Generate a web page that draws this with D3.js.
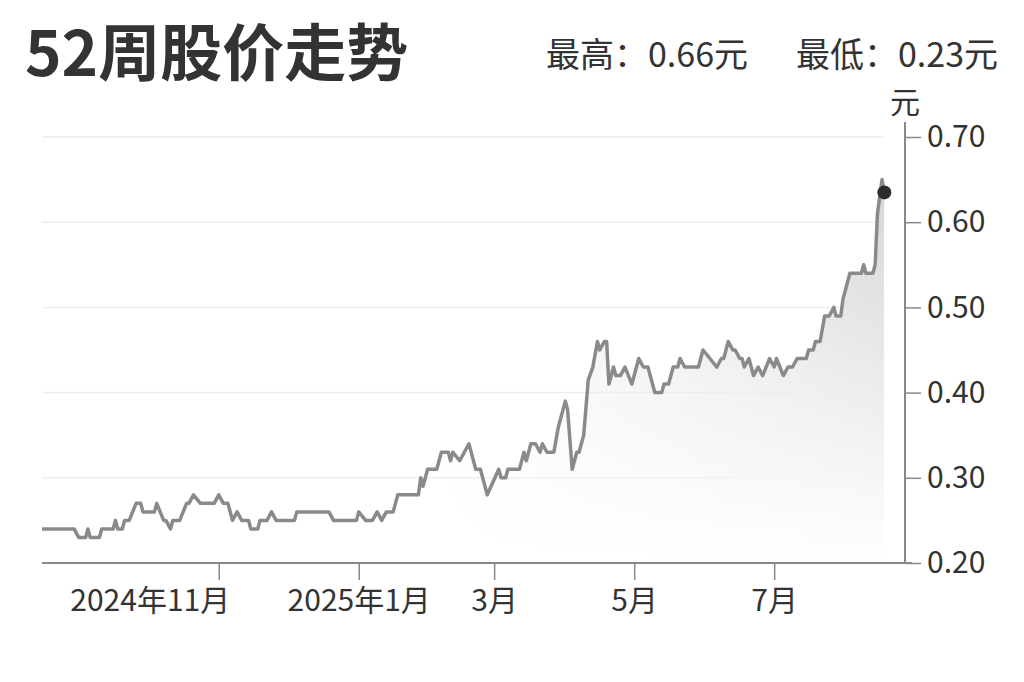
<!DOCTYPE html>
<html>
<head>
<meta charset="utf-8">
<script src="https://cdn.jsdelivr.net/npm/d3@7"></script>
<style>
  body { margin: 0; background: #fff; }
  svg text { font-family: "Noto Sans CJK SC", "Noto Sans", sans-serif; fill: #333; }
</style>
</head>
<body>
<div id="chart"></div>
<script>
var width = 1024, height = 682;

// price vertices (date, close in 元)
var dates = [
  "2024-08-16","2024-08-30","2024-09-01","2024-09-04","2024-09-05","2024-09-06","2024-09-10","2024-09-11",
  "2024-09-16","2024-09-17","2024-09-18","2024-09-20","2024-09-21","2024-09-23","2024-09-26","2024-09-28",
  "2024-09-29","2024-10-04","2024-10-05","2024-10-08","2024-10-09","2024-10-11","2024-10-12","2024-10-15",
  "2024-10-18","2024-10-19","2024-10-21","2024-10-24","2024-10-30","2024-11-01","2024-11-03","2024-11-05",
  "2024-11-07","2024-11-09","2024-11-11","2024-11-14","2024-11-15","2024-11-18","2024-11-19","2024-11-22",
  "2024-11-24","2024-11-26","2024-12-04","2024-12-05","2024-12-19","2024-12-21","2024-12-31","2025-01-01",
  "2025-01-04","2025-01-07","2025-01-09","2025-01-11","2025-01-13","2025-01-16","2025-01-18","2025-01-27",
  "2025-01-28","2025-01-29","2025-01-31","2025-02-04","2025-02-06","2025-02-09","2025-02-10","2025-02-11",
  "2025-02-14","2025-02-18","2025-02-21","2025-02-23","2025-02-26","2025-03-03","2025-03-04","2025-03-06",
  "2025-03-07","2025-03-12","2025-03-14","2025-03-15","2025-03-17","2025-03-19","2025-03-21","2025-03-22",
  "2025-03-24","2025-03-27","2025-03-29","2025-04-01","2025-04-02","2025-04-04","2025-04-06","2025-04-07",
  "2025-04-09","2025-04-11","2025-04-13","2025-04-15","2025-04-16","2025-04-18","2025-04-19","2025-04-20",
  "2025-04-22","2025-04-23","2025-04-25","2025-04-27","2025-04-30","2025-05-03","2025-05-05","2025-05-07",
  "2025-05-10","2025-05-13","2025-05-14","2025-05-16","2025-05-18","2025-05-20","2025-05-21","2025-05-23",
  "2025-05-29","2025-05-31","2025-06-03","2025-06-06","2025-06-08","2025-06-09","2025-06-11","2025-06-13",
  "2025-06-14","2025-06-16","2025-06-17","2025-06-18","2025-06-20","2025-06-22","2025-06-24","2025-06-26",
  "2025-06-29","2025-07-01","2025-07-02","2025-07-05","2025-07-07","2025-07-09","2025-07-11","2025-07-15",
  "2025-07-16","2025-07-18","2025-07-19","2025-07-21","2025-07-23","2025-07-25","2025-07-27","2025-07-28",
  "2025-07-30","2025-07-31","2025-08-03","2025-08-08","2025-08-09","2025-08-10","2025-08-13","2025-08-14",
  "2025-08-15","2025-08-17","2025-08-18"
];
var prices = [
  0.24,0.24,0.23,0.23,0.24,0.23,0.23,0.24,
  0.24,0.25,0.24,0.24,0.25,0.25,0.27,0.27,
  0.26,0.26,0.27,0.25,0.25,0.24,0.25,0.25,
  0.27,0.27,0.28,0.27,0.27,0.28,0.27,0.27,
  0.25,0.26,0.25,0.25,0.24,0.24,0.25,0.25,
  0.26,0.25,0.25,0.26,0.26,0.25,0.25,0.26,
  0.25,0.25,0.26,0.25,0.26,0.26,0.28,0.28,
  0.30,0.29,0.31,0.31,0.33,0.33,0.32,0.33,
  0.32,0.34,0.31,0.31,0.28,0.31,0.30,0.30,
  0.31,0.31,0.33,0.32,0.34,0.34,0.33,0.34,
  0.33,0.33,0.36,0.39,0.38,0.31,0.33,0.33,
  0.35,0.415,0.43,0.46,0.45,0.46,0.46,0.41,
  0.43,0.42,0.42,0.43,0.41,0.44,0.43,0.43,
  0.40,0.40,0.41,0.41,0.43,0.43,0.44,0.43,
  0.43,0.45,0.44,0.43,0.44,0.44,0.46,0.45,
  0.45,0.44,0.44,0.43,0.44,0.42,0.43,0.42,
  0.44,0.43,0.44,0.42,0.43,0.43,0.44,0.44,
  0.45,0.45,0.46,0.46,0.49,0.49,0.50,0.49,
  0.49,0.51,0.54,0.54,0.55,0.54,0.54,0.55,
  0.61,0.65,0.635
];

var yTicks = [0.20, 0.30, 0.40, 0.50, 0.60, 0.70];
var xTicks = ["2024-11-01", "2025-01-01", "2025-03-01", "2025-05-01", "2025-07-01"];
var xTickLabels = ["2024年11月", "2025年1月", "3月", "5月", "7月"];
var title = "52周股价走势";
var highText = "最高：0.66元";
var lowText = "最低：0.23元";
var unit = "元";

var parse = d3.timeParse("%Y-%m-%d");
var data = dates.map(function(d, i) { return { date: parse(d), price: prices[i] }; });

var x = d3.scaleTime()
    .domain([parse("2024-08-16"), parse("2025-08-27")])
    .range([42, 905]);
var y = d3.scaleLinear()
    .domain([0.2, 0.7])
    .range([563, 137]);

var svg = d3.select("#chart").append("svg")
    .attr("width", width)
    .attr("height", height);

var defs = svg.append("defs");
var gv = defs.append("linearGradient")
    .attr("id", "fadeV")
    .attr("x1", 0).attr("y1", 0).attr("x2", 0).attr("y2", 1);
gv.append("stop").attr("offset", "0%").attr("stop-color", "#d6d6d6");
gv.append("stop").attr("offset", "100%").attr("stop-color", "#ffffff");

var gh = defs.append("linearGradient")
    .attr("id", "fadeH")
    .attr("x1", 0).attr("y1", 0).attr("x2", 1).attr("y2", 0);
gh.append("stop").attr("offset", "45%").attr("stop-color", "#fff").attr("stop-opacity", 0);
gh.append("stop").attr("offset", "100%").attr("stop-color", "#fff").attr("stop-opacity", 1);

var lastX = x(data[data.length - 1].date);
defs.append("mask")
    .attr("id", "areaMask")
  .append("rect")
    .attr("x", 42).attr("y", 100)
    .attr("width", lastX - 42).attr("height", 470)
    .attr("fill", "url(#fadeH)");

// gridlines
svg.append("g")
  .selectAll("line")
  .data(yTicks.slice(1))
  .enter()
  .append("line")
    .attr("x1", 42)
    .attr("x2", lastX)
    .attr("y1", function(d) { return y(d); })
    .attr("y2", function(d) { return y(d); })
    .attr("stroke", "#eeeeee")
    .attr("stroke-width", 1.5);

// area
var area = d3.area()
    .x(function(d) { return x(d.date); })
    .y0(y(0.2))
    .y1(function(d) { return y(d.price); });

svg.append("path")
    .datum(data)
    .attr("d", area)
    .attr("fill", "url(#fadeV)")
    .attr("mask", "url(#areaMask)");

// line
var line = d3.line()
    .x(function(d) { return x(d.date); })
    .y(function(d) { return y(d.price); });

svg.append("path")
    .datum(data)
    .attr("d", line)
    .attr("fill", "none")
    .attr("stroke", "#8a8a8a")
    .attr("stroke-width", 3.5)
    .attr("stroke-linejoin", "round");

// last point
var last = data[data.length - 1];
svg.append("circle")
    .attr("cx", x(last.date))
    .attr("cy", y(last.price))
    .attr("r", 7)
    .attr("fill", "#2b2b2b");

// x axis
var xAxis = d3.axisBottom(x)
    .tickValues(xTicks.map(parse))
    .tickFormat(function(d, i) { return xTickLabels[i]; })
    .tickSize(17)
    .tickPadding(10);

var gx = svg.append("g")
    .attr("transform", "translate(0," + y(0.2) + ")")
    .call(xAxis);
gx.select(".domain").remove();
gx.selectAll(".tick line").attr("stroke", "#888").attr("stroke-width", 1.5);
gx.selectAll(".tick text")
    .attr("font-size", 30)
    .attr("dx", function(d, i) { return i === 0 ? -69 : 0; });

svg.append("line")
    .attr("x1", 42).attr("x2", 912)
    .attr("y1", y(0.2)).attr("y2", y(0.2))
    .attr("stroke", "#888")
    .attr("stroke-width", 2);

// y axis on the right
var yAxis = d3.axisRight(y)
    .tickValues(yTicks)
    .tickFormat(d3.format(".2f"))
    .tickSize(16)
    .tickPadding(6);

var gy = svg.append("g")
    .attr("transform", "translate(905,0)")
    .call(yAxis);
gy.select(".domain").remove();
gy.selectAll(".tick line").attr("stroke", "#888").attr("stroke-width", 1.5);
gy.selectAll(".tick text").attr("font-size", 30);

svg.append("line")
    .attr("x1", 905).attr("x2", 905)
    .attr("y1", 122).attr("y2", y(0.2))
    .attr("stroke", "#888")
    .attr("stroke-width", 2);

svg.append("text")
    .attr("x", 905)
    .attr("y", 113)
    .attr("text-anchor", "middle")
    .attr("font-size", 30)
    .text(unit);

// titles
svg.append("text")
    .attr("x", 25)
    .attr("y", 76)
    .attr("font-size", 62)
    .attr("font-weight", "bold")
    .text(title);

svg.append("text")
    .attr("x", 748)
    .attr("y", 67)
    .attr("text-anchor", "end")
    .attr("font-size", 34)
    .text(highText);

svg.append("text")
    .attr("x", 998)
    .attr("y", 67)
    .attr("text-anchor", "end")
    .attr("font-size", 34)
    .text(lowText);
</script>
</body>
</html>
